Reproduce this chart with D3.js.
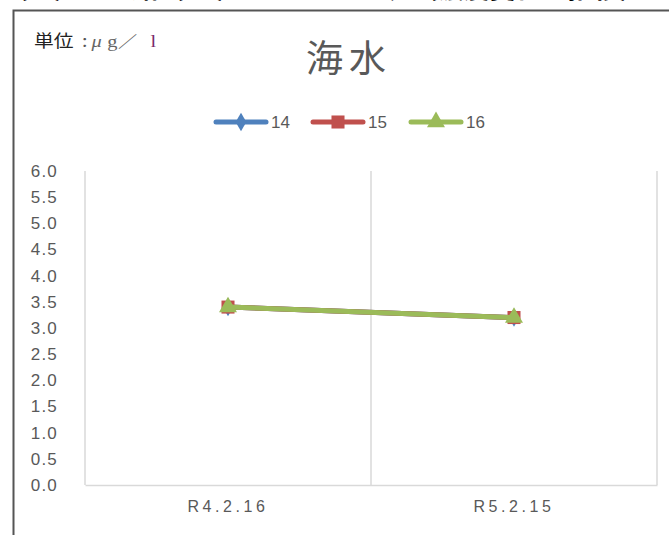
<!DOCTYPE html>
<html>
<head>
<meta charset="utf-8">
<script src="https://cdn.jsdelivr.net/npm/d3@7"></script>
<style>
  html, body { margin: 0; padding: 0; background: #fff; }
  svg { display: block; }
</style>
</head>
<body>
<svg id="chart" width="669" height="535"></svg>
<script>
// Sampling dates and measured concentrations (μg/l) per station
const categories = ["R4.2.16", "R5.2.15"];
const seriesNames = ["14", "15", "16"];
const values14 = [3.4, 3.2];
const values15 = [3.4, 3.2];
const values16 = [3.4, 3.2];
const yTicks = [0, 0.5, 1, 1.5, 2, 2.5, 3, 3.5, 4, 4.5, 5, 5.5, 6];

const series = [
  { name: seriesNames[0], values: values14, color: "#4F81BD", symbol: d3.symbolDiamond, size: 100 },
  { name: seriesNames[1], values: values15, color: "#C0504D", symbol: d3.symbolSquare, size: 170 },
  { name: seriesNames[2], values: values16, color: "#9BBB59", symbol: d3.symbolTriangle, size: 140 }
];

const svg = d3.select("#chart");
const cjk = "'Noto Sans CJK JP', 'Noto Sans', sans-serif";
const latin = "'Liberation Sans', Arial, sans-serif";
const serif = "'Liberation Serif', serif";

// Section heading above the chart frame (mostly outside the page)
svg.append("text")
  .attr("x", 2).attr("y", -2)
  .attr("font-family", cjk).attr("font-weight", "bold")
  .attr("font-size", 26).attr("fill", "#000")
  .text("（ア）全亜鉛（Zn）　モニタリング（濃度変化の推移）　亜鉛");

// Chart frame
svg.append("path")
  .attr("d", "M13.5,540 V10.5 H675")
  .attr("fill", "none").attr("stroke", "#555").attr("stroke-width", 2);

// Unit label (slightly widened glyphs)
const unit = svg.append("g").attr("transform", "translate(34,47) scale(1.2,1)");
const unitParts = [
  { t: "単位", x: 0, f: cjk, c: "#222", s: 16.5, i: false },
  { t: ":", x: 40, f: cjk, c: "#555", s: 16.5, i: false },
  { t: "μ", x: 48, f: serif, c: "#666", s: 17, i: true },
  { t: "g", x: 61, f: serif, c: "#666", s: 17, i: false },
  { t: "／", x: 70, f: cjk, c: "#666", s: 16, i: false },
  { t: "l", x: 97, f: serif, c: "#7a2a6a", s: 17, i: false }
];
unit.selectAll("text").data(unitParts).join("text")
  .attr("x", d => d.x).attr("y", 0)
  .attr("font-family", d => d.f).attr("font-size", d => d.s)
  .attr("font-style", d => d.i ? "italic" : "normal")
  .attr("fill", d => d.c)
  .text(d => d.t);

// Title
svg.append("text")
  .attr("x", 349).attr("y", 72)
  .attr("text-anchor", "middle")
  .attr("font-family", cjk).attr("font-size", 37)
  .attr("letter-spacing", 6)
  .attr("fill", "#595959")
  .text("海水");

// Scales
const plot = { left: 85, right: 657, top: 171, bottom: 485 };
const x = d3.scaleBand().domain(categories).range([plot.left, plot.right]);
const y = d3.scaleLinear().domain([0, 6]).range([plot.bottom, plot.top]);

// Vertical gridlines at category boundaries
const bounds = categories.map(c => x(c)).concat([x.range()[1]]);
svg.append("g").selectAll("line").data(bounds).join("line")
  .attr("x1", d => d).attr("x2", d => d)
  .attr("y1", plot.top).attr("y2", plot.bottom)
  .attr("stroke", "#D9D9D9").attr("stroke-width", 1.5);

// Category axis
const xAxis = svg.append("g")
  .attr("transform", `translate(0,${plot.bottom})`)
  .call(d3.axisBottom(x).tickSize(0).tickPadding(16));
xAxis.select(".domain").attr("stroke", "#D9D9D9").attr("stroke-width", 1.5);
xAxis.selectAll("text")
  .attr("font-family", latin).attr("font-size", 16)
  .attr("letter-spacing", 3.6).attr("fill", "#595959");

// Value axis
const yAxis = svg.append("g")
  .attr("transform", `translate(${plot.left},0)`)
  .call(d3.axisLeft(y).tickValues(yTicks).tickFormat(d3.format(".1f")).tickSize(0).tickPadding(27));
yAxis.select(".domain").remove();
yAxis.selectAll("text")
  .attr("font-family", latin).attr("font-size", 17)
  .attr("letter-spacing", 1.2).attr("fill", "#595959");

// Series lines and markers
const line = d3.line()
  .x((d, i) => x(categories[i]) + x.bandwidth() / 2)
  .y(d => y(d));

series.forEach(s => {
  svg.append("path")
    .datum(s.values)
    .attr("d", line)
    .attr("fill", "none")
    .attr("stroke", s.color).attr("stroke-width", 5)
    .attr("stroke-linecap", "round");
  svg.append("g").selectAll("path").data(s.values).join("path")
    .attr("transform", (d, i) => `translate(${x(categories[i]) + x.bandwidth() / 2},${y(d)})`)
    .attr("d", d3.symbol().type(s.symbol).size(s.size))
    .attr("fill", s.color);
});

// Legend
const legendX = [216, 313, 411];
const legend = svg.append("g");
series.forEach((s, i) => {
  const g = legend.append("g").attr("transform", `translate(${legendX[i]},122)`);
  g.append("line")
    .attr("x1", 0).attr("x2", 50)
    .attr("stroke", s.color).attr("stroke-width", 5)
    .attr("stroke-linecap", "round");
  g.append("path")
    .attr("transform", "translate(25,0)")
    .attr("d", d3.symbol().type(s.symbol).size(s.size))
    .attr("fill", s.color);
  g.append("text")
    .attr("x", 55).attr("y", 6)
    .attr("font-family", latin).attr("font-size", 17)
    .attr("fill", "#595959")
    .text(s.name);
});
</script>
</body>
</html>
